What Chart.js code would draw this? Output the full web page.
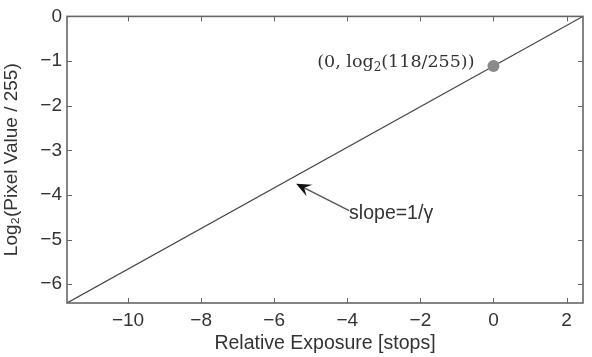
<!DOCTYPE html>
<html>
<head>
<meta charset="utf-8">
<script src="https://cdn.jsdelivr.net/npm/chart.js@4"></script>
<style>
html,body{margin:0;padding:0;background:#fff;}
#wrap{width:592px;height:357px;position:relative;}
</style>
</head>
<body>
<div id="wrap"><canvas id="c" width="592" height="357"></canvas></div>
<script>
// Data
const lineX = [-11.67, 2.45];
const lineY = [-6.42, 0];
const pointX = [0];
const pointY = [Math.log2(118 / 255)];
const xTicks = [-10, -8, -6, -4, -2, 0, 2];
const yTicks = [0, -1, -2, -3, -4, -5, -6];
const xRange = [-11.67, 2.45];
const yRange = [-6.42, 0];
const pointLabel = ["(0, log", "2", "(118/255))"];
const arrowText = "slope=1/\u03B3";
const arrowTip = [-5.4, -3.75];
const arrowTail = [-3.95, -4.35];

const fmt = v => String(v).replace('-', '\u2212');
const axisColor = '#666';
const textColor = '#333';
const SANS = '"Liberation Sans", Arial, Helvetica, sans-serif';
const SERIF = '"DejaVu Serif", "Liberation Serif", serif';

const decor = {
  id: 'decor',
  afterDatasetsDraw(chart) {
    const ctx = chart.ctx, xs = chart.scales.x, ys = chart.scales.y, a = chart.chartArea;
    ctx.save();
    // inner ticks
    ctx.strokeStyle = axisColor; ctx.lineWidth = 1;
    xTicks.forEach(v => {
      const px = Math.round(xs.getPixelForValue(v)) + 0.5;
      ctx.beginPath(); ctx.moveTo(px, a.bottom); ctx.lineTo(px, a.bottom - 5);
      ctx.moveTo(px, a.top); ctx.lineTo(px, a.top + 5); ctx.stroke();
    });
    yTicks.forEach(v => {
      const py = Math.round(ys.getPixelForValue(v)) + 0.5;
      ctx.beginPath(); ctx.moveTo(a.left, py); ctx.lineTo(a.left + 5, py);
      ctx.moveTo(a.right, py); ctx.lineTo(a.right - 5, py); ctx.stroke();
    });
    // box
    ctx.lineWidth = 1.6; ctx.strokeStyle = axisColor;
    ctx.strokeRect(a.left, a.top, a.right - a.left, a.bottom - a.top);

    // point label (serif)
    const px = xs.getPixelForValue(pointX[0]);
    const py = ys.getPixelForValue(pointY[0]);
    ctx.fillStyle = '#333';
    ctx.textBaseline = 'alphabetic';
    const big = '17.5px ' + SERIF, small = '12px ' + SERIF;
    ctx.font = big;
    const w1 = ctx.measureText(pointLabel[0]).width;
    const w3 = ctx.measureText(pointLabel[2]).width;
    ctx.font = small;
    const w2 = ctx.measureText(pointLabel[1]).width;
    let tx = px - 19 - (w1 + w2 + w3);
    const ty = py + 1;
    ctx.font = big;
    ctx.fillText(pointLabel[0], tx, ty); tx += w1;
    ctx.font = small;
    ctx.fillText(pointLabel[1], tx, ty + 4); tx += w2;
    ctx.font = big;
    ctx.fillText(pointLabel[2], tx, ty);

    // arrow
    const x1 = xs.getPixelForValue(arrowTail[0]), y1 = ys.getPixelForValue(arrowTail[1]);
    const x2 = xs.getPixelForValue(arrowTip[0]), y2 = ys.getPixelForValue(arrowTip[1]);
    const ang = Math.atan2(y2 - y1, x2 - x1);
    ctx.strokeStyle = '#555'; ctx.lineWidth = 1.4;
    ctx.beginPath(); ctx.moveTo(x1, y1); ctx.lineTo(x2 - 8 * Math.cos(ang), y2 - 8 * Math.sin(ang)); ctx.stroke();
    ctx.fillStyle = '#111';
    const L = 15, H = 6.5;
    ctx.beginPath();
    ctx.moveTo(x2, y2);
    ctx.lineTo(x2 - L * Math.cos(ang) + H * Math.sin(ang), y2 - L * Math.sin(ang) - H * Math.cos(ang));
    ctx.lineTo(x2 - 0.6 * L * Math.cos(ang), y2 - 0.6 * L * Math.sin(ang));
    ctx.lineTo(x2 - L * Math.cos(ang) - H * Math.sin(ang), y2 - L * Math.sin(ang) + H * Math.cos(ang));
    ctx.closePath(); ctx.fill();
    ctx.fillStyle = textColor;
    ctx.font = '19.5px ' + SANS;
    ctx.textBaseline = 'middle';
    ctx.fillText(arrowText, x1 + 0, y1 + 3);
    ctx.restore();
  }
};

new Chart(document.getElementById('c'), {
  type: 'scatter',
  data: {
    datasets: [
      {
        data: lineX.map((x, i) => ({ x, y: lineY[i] })),
        showLine: true, borderColor: '#444', borderWidth: 1.2,
        pointRadius: 0, fill: false, order: 2
      },
      {
        data: pointX.map((x, i) => ({ x, y: pointY[i] })),
        pointRadius: 6, pointBackgroundColor: '#8a8a8a', pointBorderColor: '#8a8a8a',
        pointBorderWidth: 0, order: 1
      }
    ]
  },
  options: {
    responsive: false, animation: false,
    layout: { padding: { top: 10, right: 9, left: 0, bottom: 0 } },
    plugins: { legend: { display: false }, tooltip: { enabled: false } },
    scales: {
      x: {
        type: 'linear', min: xRange[0], max: xRange[1],
        afterBuildTicks: s => { s.ticks = xTicks.map(v => ({ value: v })); },
        afterFit: s => { s.height = 54; },
        grid: { display: false, drawTicks: false },
        border: { display: false },
        ticks: { color: textColor, font: { size: 19, family: SANS }, padding: 6, callback: v => fmt(v), maxRotation: 0 },
        title: { display: true, text: 'Relative Exposure [stops]', color: textColor, font: { size: 19.5, family: SANS }, padding: { top: 0, bottom: 2 } }
      },
      y: {
        type: 'linear', min: yRange[0], max: yRange[1],
        afterBuildTicks: s => { s.ticks = yTicks.map(v => ({ value: v })); },
        afterFit: s => { s.width = 67; },
        grid: { display: false, drawTicks: false },
        border: { display: false },
        ticks: { color: textColor, font: { size: 19, family: SANS }, padding: 5, callback: v => fmt(v) },
        title: { display: true, text: 'Log\u2082(Pixel Value / 255)', color: textColor, font: { size: 19, family: SANS }, padding: { top: 0, bottom: 2 } }
      }
    }
  },
  plugins: [decor]
});
</script>
</body>
</html>
